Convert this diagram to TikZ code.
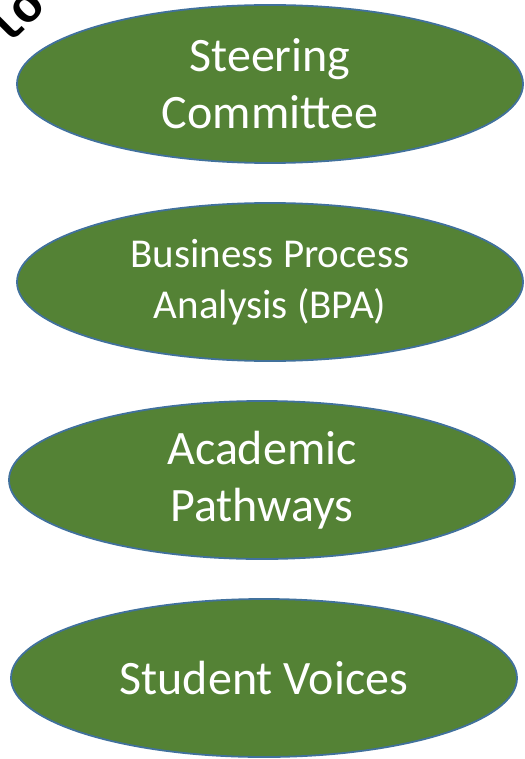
\documentclass[tikz,border=0pt]{standalone}
\usepackage{fontspec}
\setmainfont{Carlito}
\newfontfamily\stampfont{Liberation Mono}
\usetikzlibrary{shapes.geometric, positioning}
\definecolor{groupgreen}{HTML}{548235}
\definecolor{groupedge}{HTML}{41719C}
\tikzset{group/.style = {ellipse, draw=groupedge, line width=1.8pt, fill=groupgreen,
    text=white, minimum width=506pt, minimum height=158pt, inner sep=0pt,
    outer sep=0pt, align=center, font=\fontsize{48}{57}\selectfont}}

\begin{document}
\begin{tikzpicture}[x=1pt,y=-1pt,node distance=40pt]
      \clip (0,0) rectangle (524,759);

      \node[group] (steering) at (270,84) {Steering\\Committee};

      \node[group, below = of steering, font=\fontsize{41}{51}\selectfont] (bpa)
      {Business Process\\Analysis (BPA)};

      \node[group, below = of bpa, xshift=-8pt] (pathways) {Academic\\Pathways};

      \node[group, below = of pathways, xshift=2pt] (voices) {Student Voices};

      % cut-off stamp in the corner
      \node[rotate=45, font=\stampfont\bfseries\fontsize{50}{50}\selectfont]
      (stamp) at (14,16) {lo};
\end{tikzpicture}
\end{document}
